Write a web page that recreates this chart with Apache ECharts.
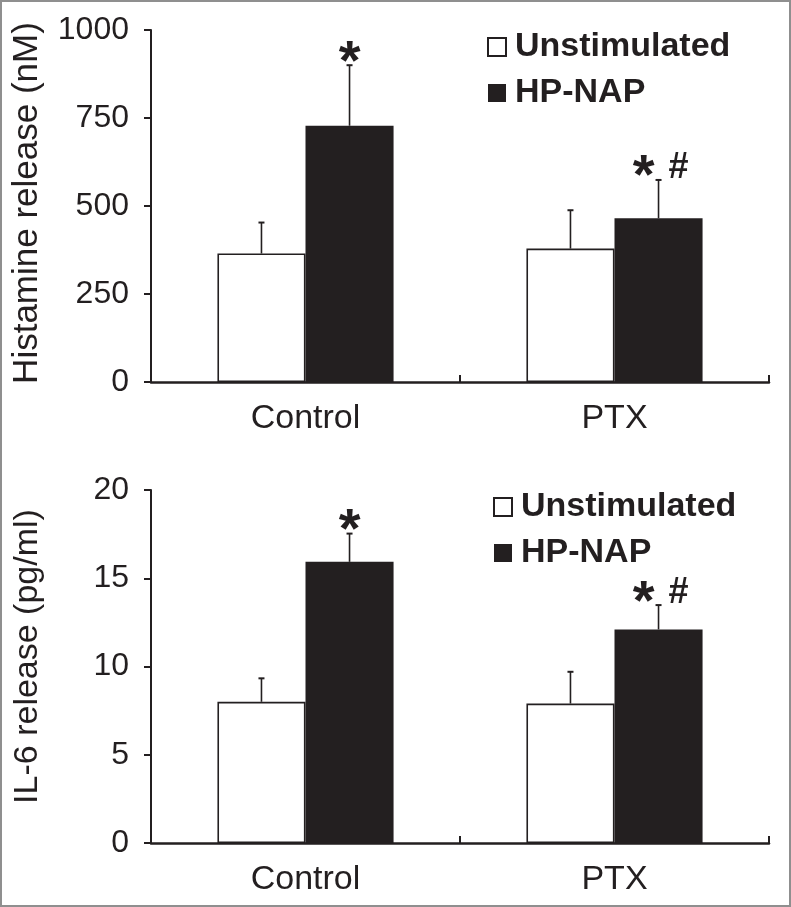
<!DOCTYPE html>
<html>
<head>
<meta charset="utf-8">
<script src="https://cdn.jsdelivr.net/npm/echarts@6/dist/echarts.min.js"></script>
<style>
html,body{margin:0;padding:0;background:#fff;}
#chart{width:791px;height:907px;}
</style>
</head>
<body>
<div id="chart"></div>
<script>
// ---- data ----
const categories = ['Control', 'PTX'];
const seriesNames = ['Unstimulated', 'HP-NAP'];
// Histamine release (nM)
const histUnstim = [365, 379];
const histUnstimErr = [88, 109];
const histNap = [728, 465];
const histNapErr = [172, 109];
// IL-6 release (pg/ml)
const il6Unstim = [8.0, 7.9];
const il6UnstimErr = [1.33, 1.8];
const il6Nap = [15.93, 12.1];
const il6NapErr = [1.6, 1.38];
// significance marks on HP-NAP bars
const starMarks = [true, true];
const hashMarks = [false, true];
// axis ticks
const histTicks = {min: 0, max: 1000, interval: 250};
const il6Ticks = {min: 0, max: 20, interval: 5};

const INK = '#231f20';
const FONT = '"Liberation Sans", Arial, Helvetica, sans-serif';
const BAR_FRAC = 0.285;

function errData(vals, errs, sIdx, withMarks) {
  return vals.map((v, i) => [i, v, errs[i], sIdx,
    withMarks && starMarks[i] ? 1 : 0, withMarks && hashMarks[i] ? 1 : 0]);
}

function renderErr(params, api) {
  const ci = api.value(0), v = api.value(1), e = api.value(2), s = api.value(3);
  const star = api.value(4), hash = api.value(5);
  const band = api.size([1, 0])[0];
  const bw = band * BAR_FRAC;
  const base = api.coord([ci, v]);
  const x = base[0] + (s === 0 ? -bw / 2 : bw / 2);
  const top = api.coord([ci, v + e])[1];
  const children = [
    {type: 'line', shape: {x1: x, y1: base[1], x2: x, y2: top}, style: {stroke: INK, lineWidth: 1.6}},
    {type: 'line', shape: {x1: x - 3, y1: top, x2: x + 3, y2: top}, style: {stroke: INK, lineWidth: 2}}
  ];
  if (star) {
    children.push({type: 'text', x: x + (hash ? -15 : 0), y: top - 2,
      style: {text: '*', font: 'bold 56px ' + FONT, fill: INK, align: 'center', verticalAlign: 'middle'}});
  }
  if (hash) {
    children.push({type: 'text', x: x + 20, y: top - 12,
      style: {text: '#', font: 'bold 36px ' + FONT, fill: INK, align: 'center', verticalAlign: 'middle'}});
  }
  return {type: 'group', children: children};
}

const xAxisCommon = {
  type: 'category',
  data: categories,
  axisLine: {lineStyle: {color: INK, width: 2.5}},
  axisTick: {show: true, inside: true, length: 7, alignWithLabel: false, lineStyle: {color: INK, width: 2}},
  axisLabel: {color: INK, fontSize: 34, fontFamily: FONT, margin: 20}
};
const yAxisCommon = {
  type: 'value',
  splitLine: {show: false},
  axisLine: {show: true, lineStyle: {color: INK, width: 2}},
  axisTick: {show: true, inside: false, length: 7, lineStyle: {color: INK, width: 2}},
  axisLabel: {color: INK, fontSize: 32, fontFamily: FONT, margin: 22, formatter: (v) => String(v)},
  nameLocation: 'middle',
  nameRotate: 90,
  nameGap: 106
};

const unstimStyle = {color: '#ffffff', borderColor: INK, borderWidth: 1.6};
const napStyle = {color: INK, borderColor: INK, borderWidth: 0};

const legendCommon = {
  orient: 'vertical',
  padding: 0,
  itemWidth: 18, itemHeight: 18, itemGap: 12,
  icon: 'rect',
  textStyle: {color: INK, fontSize: 34, fontWeight: 'bold', fontFamily: FONT, lineHeight: 34, padding: [0, 0, 0, 4]},
  data: seriesNames,
  selectedMode: false
};

const option = {
  animation: false,
  backgroundColor: '#ffffff',
  graphic: [{type: 'rect', shape: {x: 1, y: 1, width: 789, height: 905},
    style: {fill: 'none', stroke: '#8f8f8f', lineWidth: 2}, silent: true, z: 100}],
  grid: [
    {left: 151, right: 22, top: 30, height: 352},
    {left: 151, right: 22, top: 490, height: 353}
  ],
  legend: [
    Object.assign({left: 487, top: 30}, legendCommon),
    Object.assign({left: 493, top: 490}, legendCommon)
  ],
  xAxis: [
    Object.assign({gridIndex: 0}, xAxisCommon),
    Object.assign({gridIndex: 1}, xAxisCommon)
  ],
  yAxis: [
    Object.assign({gridIndex: 0, name: 'Histamine release (nM)',
      nameTextStyle: {color: INK, fontSize: 35, fontFamily: FONT, padding: [0, 0, 0, 6]}}, yAxisCommon, histTicks),
    Object.assign({gridIndex: 1, name: 'IL-6 release (pg/ml)',
      nameTextStyle: {color: INK, fontSize: 34, fontFamily: FONT, padding: [0, 0, 0, 20]}}, yAxisCommon, il6Ticks)
  ],
  series: [
    {name: 'Unstimulated', type: 'bar', xAxisIndex: 0, yAxisIndex: 0, data: histUnstim,
      barWidth: (BAR_FRAC * 100) + '%', barGap: '0%', itemStyle: unstimStyle},
    {name: 'HP-NAP', type: 'bar', xAxisIndex: 0, yAxisIndex: 0, data: histNap,
      barWidth: (BAR_FRAC * 100) + '%', barGap: '0%', itemStyle: napStyle},
    {name: 'Unstimulated', type: 'bar', xAxisIndex: 1, yAxisIndex: 1, data: il6Unstim,
      barWidth: (BAR_FRAC * 100) + '%', barGap: '0%', itemStyle: unstimStyle},
    {name: 'HP-NAP', type: 'bar', xAxisIndex: 1, yAxisIndex: 1, data: il6Nap,
      barWidth: (BAR_FRAC * 100) + '%', barGap: '0%', itemStyle: napStyle},
    {type: 'custom', xAxisIndex: 0, yAxisIndex: 0, renderItem: renderErr, z: 10,
      encode: {x: 0, y: 1}, data: errData(histUnstim, histUnstimErr, 0, false).concat(errData(histNap, histNapErr, 1, true))},
    {type: 'custom', xAxisIndex: 1, yAxisIndex: 1, renderItem: renderErr, z: 10,
      encode: {x: 0, y: 1}, data: errData(il6Unstim, il6UnstimErr, 0, false).concat(errData(il6Nap, il6NapErr, 1, true))}
  ]
};

const chart = echarts.init(document.getElementById('chart'), null, {renderer: 'canvas'});
chart.setOption(option);
</script>
</body>
</html>
